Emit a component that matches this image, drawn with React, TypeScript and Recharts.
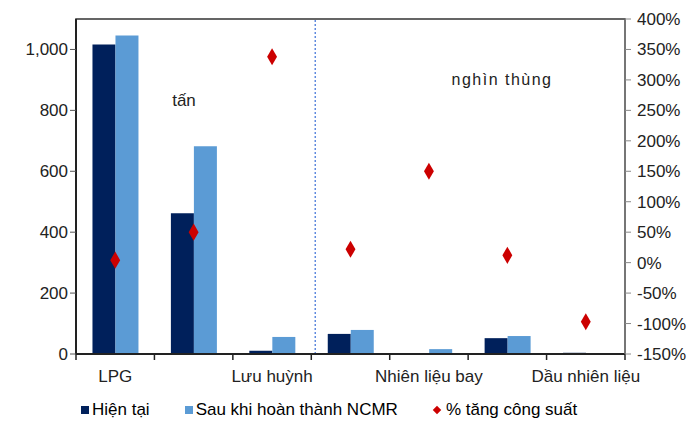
import {
  Bar,
  ComposedChart,
  Legend,
  ReferenceArea,
  ReferenceLine,
  Scatter,
  XAxis,
  YAxis,
  ZAxis,
} from "recharts"

const products = [
  "LPG",
  "Polypropylene",
  "Lưu huỳnh",
  "Xăng",
  "Nhiên liệu bay",
  "Diesel",
  "Dầu nhiên liệu",
]
const current = [1016, 462, 11, 66, 3, 52, 4]
const afterNcmr = [1046, 682, 56, 79, 16, 59, 0.1]
const capacityGrowth = [4, 50, 338, 22, 150, 12, -97]

const leftTicks = [0, 200, 400, 600, 800, 1000]
const rightTicks = [-150, -100, -50, 0, 50, 100, 150, 200, 250, 300, 350, 400]
const boundaryTicks = [0, 1, 2, 3, 4, 5, 6, 7]

const data = products.map((name, i) => ({
  name,
  slot: i + 0.5,
  current: current[i],
  after: afterNcmr[i],
  pct: capacityGrowth[i],
}))

const FONT = "'Liberation Sans', Arial, sans-serif"
const DARK = "#00205b"
const LIGHT = "#5b9bd5"
const RED = "#cc0000"

function LegendContent() {
  const items = [
    { label: "Hiện tại", color: DARK, shape: "square", gap: 0 },
    { label: "Sau khi hoàn thành NCMR", color: LIGHT, shape: "square", gap: 35 },
    { label: "% tăng công suất", color: RED, shape: "diamond", gap: 34 },
  ]
  return (
    <div style={{ display: "flex", alignItems: "center", fontFamily: FONT, fontSize: 17, color: "#000" }}>
      {items.map((it) => (
        <div key={it.label} style={{ display: "flex", alignItems: "center", marginLeft: it.gap }}>
          {it.shape === "square" ? (
            <span style={{ width: 8, height: 8, background: it.color, display: "inline-block", marginRight: 3 }} />
          ) : (
            <span
              style={{
                width: 6,
                height: 6,
                background: it.color,
                display: "inline-block",
                transform: "rotate(45deg)",
                marginRight: 6,
                marginLeft: 2,
              }}
            />
          )}
          <span>{it.label}</span>
        </div>
      ))}
    </div>
  )
}

export default function App() {
  return (
    <div style={{ position: "absolute", left: 0, top: 0, background: "#fff" }}>
      <ComposedChart
        width={699}
        height={434}
        data={data}
        barCategoryGap="21%"
        barGap={0}
        margin={{ top: 19, right: 0, bottom: 50, left: 0 }}
      >
        <XAxis
          xAxisId="b"
          dataKey="slot"
          type="number"
          domain={[0, 7]}
          allowDataOverflow
          ticks={boundaryTicks}
          height={6}
          stroke="#222"
          strokeWidth={2}
          tickLine={{ stroke: "#222", strokeWidth: 1.5 }}
          tickSize={6}
          tickFormatter={() => ""}
        />
        <XAxis
          xAxisId="z"
          dataKey="name"
          height={24}
          axisLine={false}
          tickLine={false}
          interval={1}
          tick={{ fill: "#222", fontSize: 17, fontFamily: FONT, dy: 2 }}
        />
        <YAxis
          yAxisId="left"
          width={76}
          domain={[0, 1100]}
          ticks={leftTicks}
          stroke="#222"
          strokeWidth={2}
          tickLine={{ stroke: "#555", strokeWidth: 1 }}
          tickSize={6}
          tick={{ fill: "#222", fontSize: 17, fontFamily: FONT }}
          tickFormatter={(v) => v.toLocaleString("en-US")}
        />
        <YAxis
          yAxisId="right"
          orientation="right"
          width={74}
          domain={[-150, 400]}
          ticks={rightTicks}
          stroke="#888"
          tickLine={{ stroke: "#888" }}
          tickSize={6}
          tick={{ fill: "#222", fontSize: 17, fontFamily: FONT, dx: 4 }}
          tickFormatter={(v) => `${v}%`}
        />
        <ZAxis range={[85, 85]} />
        <ReferenceArea
          xAxisId="b"
          yAxisId="left"
          x1={0}
          x2={7}
          y1={0}
          y2={1100}
          fill="none"
          stroke="#333"
          strokeWidth={1.5}
          ifOverflow="visible"
        />
        <ReferenceLine
          xAxisId="b"
          yAxisId="left"
          x={3.05}
          stroke="#3b6fd6"
          strokeWidth={1.2}
          strokeDasharray="2 2"
        />
        <Bar xAxisId="z" yAxisId="left" dataKey="current" name="Hiện tại" fill={DARK} isAnimationActive={false} />
        <Bar
          xAxisId="z"
          yAxisId="left"
          dataKey="after"
          name="Sau khi hoàn thành NCMR"
          fill={LIGHT}
          isAnimationActive={false}
        />
        <Scatter
          xAxisId="z"
          yAxisId="right"
          dataKey="pct"
          name="% tăng công suất"
          fill={RED}
          shape="diamond"
          isAnimationActive={false}
        />
        <Legend
          layout="horizontal"
          verticalAlign="middle"
          align="center"
          content={<LegendContent />}
          wrapperStyle={{ top: 400, left: 81, width: 620, height: 24 }}
        />
        <text x={184} y={106} textAnchor="middle" fontFamily={FONT} fontSize={17} fill="#222">
          tấn
        </text>
        <text x={502} y={85} textAnchor="middle" fontFamily={FONT} fontSize={16} fill="#222" letterSpacing={1.5}>
          nghìn thùng
        </text>
      </ComposedChart>
    </div>
  )
}
